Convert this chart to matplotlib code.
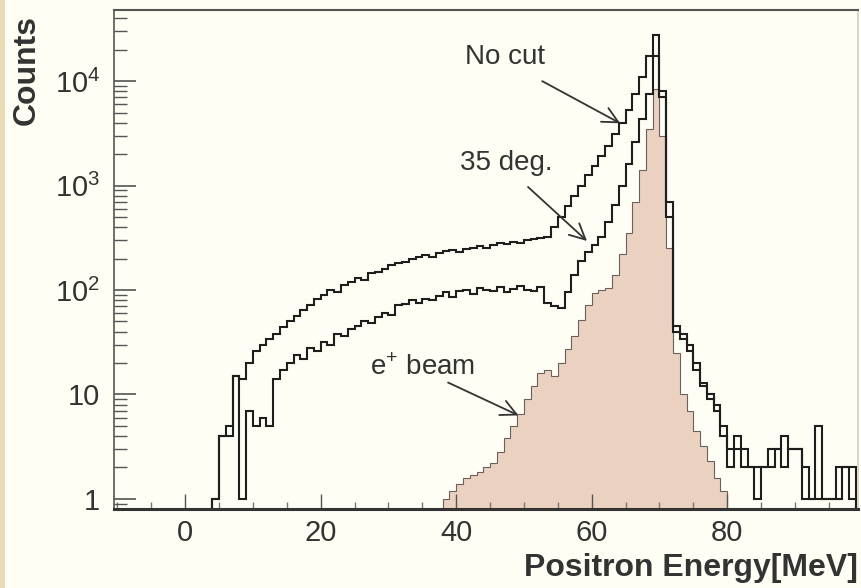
import numpy as np
import matplotlib.pyplot as plt
from matplotlib.patches import Rectangle
from matplotlib.ticker import FixedLocator, FixedFormatter, LogLocator, NullFormatter, MultipleLocator

plt.rcParams['font.family'] = ['Liberation Sans', 'DejaVu Sans']
plt.rcParams['mathtext.fontset'] = 'custom'
plt.rcParams['mathtext.rm'] = 'Liberation Sans'

# 1 MeV bins, first bin starts at e_start
e_start_cut = 4
nocut = [1, 4, 4, 15, 14, 20, 26, 30, 34, 38,
         44, 50, 56, 64, 72, 82, 90, 100, 96, 112,
         120, 130, 126, 145, 150, 160, 172, 180, 186, 198,
         205, 215, 208, 225, 235, 240, 232, 246, 252, 262,
         255, 268, 280, 274, 290, 284, 300, 305, 312, 325,
         400, 500, 640, 800, 1000, 1250, 1550, 1900, 2400, 3100,
         4000, 5300, 7500, 11000, 17500, 27500, 8000, 700, 45, 38,
         30, 20, 13, 10, 8, 5, 3, 4, 3, 2,
         2, 2, 3, 3, 4, 3, 3, 2, 1, 5,
         1, 1, 2, 2, 2]
deg35 = [1, 4, 5, 15, 1, 7, 5, 6, 5, 14,
         17, 20, 24, 22, 28, 26, 32, 30, 38, 36,
         42, 45, 50, 48, 55, 60, 58, 72, 74, 80,
         75, 82, 80, 88, 95, 85, 98, 100, 92, 105,
         100, 97, 108, 95, 102, 110, 100, 98, 106, 75,
         70, 68, 95, 140, 190, 230, 270, 320, 450, 650,
         1000, 1600, 2600, 4300, 7500, 17500, 7000, 500, 40, 34,
         26, 17, 12, 9, 7, 4, 2, 3, 2, 2,
         1, 2, 2, 3, 2, 3, 3, 1, 1, 1,
         1, 1, 1, 2, 1]

e_start_beam = 38
beam = [1, 1.2, 1.4, 1.6, 1.7, 1.8, 2.0, 2.2, 2.8, 3.8,
        5, 6.5, 9, 12, 16, 17, 15, 20, 27, 36,
        52, 72, 94, 100, 105, 140, 220, 350, 700, 1400,
        3500, 8500, 3000, 250, 25, 10, 7, 4.5, 3.2, 2.3,
        1.6, 1.2]

edges_cut = np.arange(e_start_cut, e_start_cut + len(nocut) + 1)
edges_beam = np.arange(e_start_beam, e_start_beam + len(beam) + 1)

bg = '#fffef4'
fig = plt.figure(figsize=(8.62, 5.88), dpi=100, facecolor=bg)
fig.add_artist(Rectangle((0, 0), 5 / 862, 1, transform=fig.transFigure, color='#e8dbb6', lw=0))
ax = fig.add_axes([114 / 862, 79 / 588, 744 / 862, 499 / 588])
ax.set_facecolor(bg)

ax.stairs(beam, edges_beam, baseline=0.5, fill=True, color='#ebd2c0', lw=0)
ax.stairs(beam, edges_beam, baseline=0.5, color='#6a6060', lw=0.8)
ax.stairs(deg35, edges_cut, baseline=0.5, color='#1e1e1e', lw=1.5)
ax.stairs(nocut, edges_cut, baseline=0.5, color='#1e1e1e', lw=1.5)

ax.set_yscale('log')
ax.set_xlim(-10.5, 99.3)
ax.set_ylim(0.8, 4.8e4)

ax.yaxis.set_major_locator(FixedLocator([1, 10, 100, 1000, 10000]))
ax.yaxis.set_major_formatter(FixedFormatter(['1', '10', r'$\mathregular{10^{2}}$',
                                             r'$\mathregular{10^{3}}$', r'$\mathregular{10^{4}}$']))
ax.yaxis.set_minor_locator(LogLocator(base=10, subs=np.arange(2, 10), numticks=20))
ax.yaxis.set_minor_formatter(NullFormatter())
ax.xaxis.set_major_locator(MultipleLocator(20))
ax.xaxis.set_minor_locator(MultipleLocator(5))

ax.tick_params(axis='y', which='major', direction='in', length=16, width=1.1,
               labelsize=21, pad=10, color='#444', labelcolor='#333')
ax.tick_params(axis='y', which='minor', direction='in', length=9, width=1.0, color='#555')
ax.tick_params(axis='x', which='major', direction='in', length=11, width=1.0,
               labelsize=21, pad=7, color='#555', labelcolor='#333')
ax.tick_params(axis='x', which='minor', direction='in', length=5, width=1.0, color='#777')

ax.spines['bottom'].set_linewidth(2.2)
ax.spines['bottom'].set_color('#333')
ax.spines['left'].set_linewidth(1.2)
ax.spines['left'].set_color('#555')
ax.spines['top'].set_linewidth(1.5)
ax.spines['top'].set_color('#555')
ax.spines['right'].set_linewidth(1.2)
ax.spines['right'].set_color('#dccbc3')

# labels with arrows
arrow = dict(arrowstyle='->', color='#333', lw=1.3, mutation_scale=28, shrinkA=0, shrinkB=0)
ax.annotate('', xy=(64.2, 3950), xytext=(52.7, 1.0e4), arrowprops=arrow)
ax.annotate('', xy=(59.3, 295), xytext=(50.6, 970), arrowprops=arrow)
ax.annotate('', xy=(49.2, 6.3), xytext=(38.8, 13), arrowprops=arrow)
ax.text(47.2, 1.7e4, 'No cut', fontsize=20, color='#333', ha='center', va='center')
ax.text(47.4, 1650, '35 deg.', fontsize=20, color='#333', ha='center', va='center')
ax.text(35.1, 18, r'e$^{+}$ beam', fontsize=20, color='#333', ha='center', va='center')

fig.text(0.031, 1 - 70 / 588, 'Counts', rotation=90, ha='center', va='center',
         fontsize=23, fontweight='bold', color='#333')
fig.text(858 / 862, 1 - 568 / 588, 'Positron Energy[MeV]', ha='right', va='center',
         fontsize=23, fontweight='bold', color='#333')

fig.savefig('out.png', dpi=100, facecolor=bg)
